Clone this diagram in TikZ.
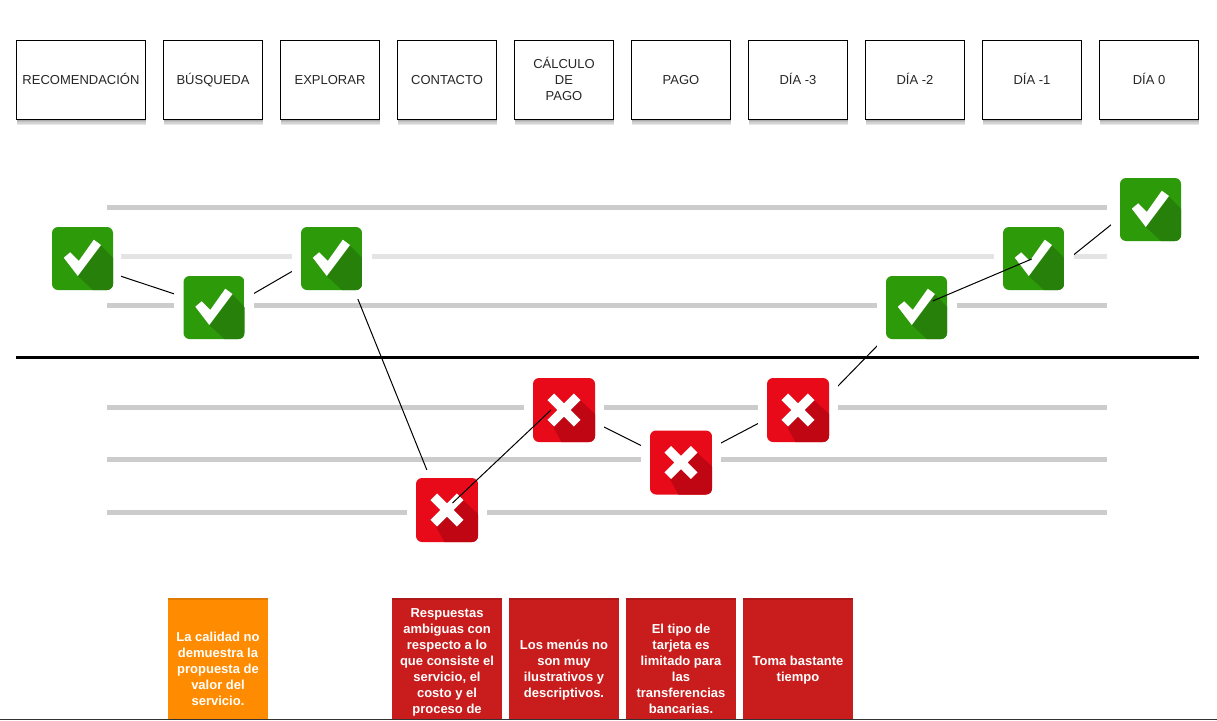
\documentclass[tikz,border=0pt]{standalone}
\usepackage{fontspec}
\setmainfont{Liberation Sans}
\usetikzlibrary{calc,shadows}
\pgfdeclarelayer{paper}
\pgfdeclarelayer{bars}
\pgfdeclarelayer{links}
\pgfsetlayers{paper,bars,links,main}
\definecolor{okgreen}{HTML}{2D9A0A}
\definecolor{okdark}{HTML}{26800A}
\definecolor{badred}{HTML}{E80A18}
\definecolor{baddark}{HTML}{BF0612}
\definecolor{cardred}{HTML}{C91C1C}
\definecolor{cardorange}{HTML}{FF8C00}
\definecolor{bargrey}{HTML}{CCCCCC}
\definecolor{barlight}{HTML}{E4E4E4}
\newcommand{\capstrut}{\rule[-4.2pt]{0pt}{18.2pt}}
\tikzset{
  x=1pt,y=-1pt,
  softshadow/.style={general shadow={shadow yshift=#1,opacity=.09,fill=black}},
  stagebox/.style={draw=black,line width=1pt,fill=white,minimum height=79pt,inner sep=0pt,align=center,
    font=\fontsize{13}{16}\selectfont,text=black!85,
    softshadow=-5.5pt,softshadow=-4pt,softshadow=-2.5pt,softshadow=-1pt},
  halo/.style={fill=white,draw=none,minimum width=80pt,minimum height=81pt,inner sep=0pt},
  card/.style={draw=none,minimum height=122pt,inner sep=0pt,anchor=north west,align=center,text=white,
    font=\bfseries\fontsize{13}{16}\selectfont},
  barline/.style={line width=5pt,bargrey},
  link/.style={draw=black,line width=1pt},
}
\newcommand{\okicon}[1]{%
  \begin{scope}[shift={(#1)}]
    \begin{scope}
      \clip[rounded corners=6pt] (-30.5,-31.5) rectangle (30.5,31.5);
      \fill[okgreen] (-31,-32) rectangle (31,32);
      \fill[okdark] (18,-13.5) -- (31,0) -- (31,32) -- (11,32) -- (-4.7,17.5) -- cycle;
    \end{scope}
    \fill[white] (-18.7,-.8) -- (-12.3,-6.2) -- (-3.7,2.4) -- (11.3,-18.8) -- (18.5,-13.5) -- (-4.7,17.5) -- cycle;
  \end{scope}}
\newcommand{\badicon}[1]{%
  \begin{scope}[shift={(#1)}]
    \begin{scope}
      \clip[rounded corners=6pt] (-31,-32) rectangle (31,32);
      \fill[badred] (-32,-33) rectangle (32,33);
      \fill[baddark] (16,-10) -- (32,5) -- (32,33) -- (-2,33) -- (-11,16.7) -- cycle;
    \end{scope}
    \draw[white,line width=9.5pt] (-13.2,-13.2) -- (13.2,13.2) (-13.2,13.2) -- (13.2,-13.2);
  \end{scope}}
\begin{document}
\begin{tikzpicture}
\useasboundingbox (0,0) rectangle (1217,720);
\begin{pgfonlayer}{paper}
  \fill[white] (0,0) rectangle (1217,720);
\end{pgfonlayer}

% stage boxes
\node[stagebox,minimum width=129pt] (s1) at (81,80) {\capstrut RECOMENDACIÓN};
\node[stagebox,minimum width=99pt] (s2) at (213,80) {\capstrut BÚSQUEDA};
\node[stagebox,minimum width=99pt] (s3) at (330,80) {\capstrut EXPLORAR};
\node[stagebox,minimum width=99pt] (s4) at (447,80) {\capstrut CONTACTO};
\node[stagebox,minimum width=99pt] (s5) at (564,80) {\capstrut CÁLCULO\\DE\\\capstrut PAGO};
\node[stagebox,minimum width=99pt] (s6) at (681,80) {\capstrut PAGO};
\node[stagebox,minimum width=99pt] (s7) at (798,80) {\capstrut DÍA -3};
\node[stagebox,minimum width=99pt] (s8) at (915,80) {\capstrut DÍA -2};
\node[stagebox,minimum width=99pt] (s9) at (1032,80) {\capstrut DÍA -1};
\node[stagebox,minimum width=99pt] (s10) at (1149,80) {\capstrut DÍA 0};

% horizontal guide bars
\begin{pgfonlayer}{bars}
  \draw[barline] (107,207.5) -- (1107,207.5);
  \draw[barline,barlight] (107,256.5) -- (1107,256.5);
  \draw[barline] (107,305.5) -- (1107,305.5);
  \draw[barline] (107,407.5) -- (1107,407.5);
  \draw[barline] (107,459.5) -- (1107,459.5);
  \draw[barline] (107,512.5) -- (1107,512.5);
\end{pgfonlayer}
\draw[black,line width=3pt] (16,357) -- (1199,357);

% icon halos
\node[halo,minimum width=77pt] (a) at (82.5,258.5) {};
\node[halo] (b) at (214,307.5) {};
\node[halo] (c) at (331.5,258.5) {};
\node[halo] (d) at (447,510) {};
\node[halo] (e) at (564,410) {};
\node[halo] (f) at (681,462.5) {};
\node[halo] (g) at (798,410) {};
\node[halo] (h) at (916.5,307.5) {};
\node[halo] (i) at (1033.5,258.5) {};
\node[halo] (j) at (1150.5,209.5) {};

\okicon{a.center}\okicon{b.center}\okicon{c.center}
\badicon{d.center}\badicon{e.center}\badicon{f.center}\badicon{g.center}
\okicon{h.center}\okicon{i.center}\okicon{j.center}

% connectors hidden behind the halos
\begin{pgfonlayer}{links}
  \draw[link] ($(a.center)+(0,5)$) -- ($(b.center)+(-.5,-.6)$);
  \draw[link] ($(b.center)+(-.5,9.4)$) -- ($(c.center)+(-.5,-9.7)$);
  \draw[link] ($(c.center)+(10,0)$) -- ($(d.center)+(-4,0)$);
  \draw[link] ($(e.center)+(0,-3)$) -- ($(f.center)+(0,3)$);
  \draw[link] ($(f.center)+(0,1.5)$) -- ($(g.center)+(0,-7.5)$);
  \draw[link] ($(g.center)+(0,17)$) -- ($(h.center)+(0,-2)$);
  \draw[link] ($(i.center)+(-.5,29)$) -- ($(j.center)+(-.5,-16)$);
\end{pgfonlayer}
% connectors over the icons
\draw[link] ($(d.center)+(5.5,-7)$) -- ($(e.center)+(-13,0)$);
\draw[link] ($(h.center)+(16.2,-6.5)$) -- ($(i.center)+(-1.8,.5)$);

% cards
\node[card,fill=cardorange,minimum width=100pt] (c1) at (168,598) {};
\node[card,fill=cardred,minimum width=110pt] (c2) at (392,598) {};
\node[card,fill=cardred,minimum width=110pt] (c3) at (509,598) {};
\node[card,fill=cardred,minimum width=110pt] (c4) at (626,598) {};
\node[card,fill=cardred,minimum width=110pt] (c5) at (743,598) {};
\fill[black,opacity=.12] (c1.north west) rectangle ++(100,2);
\fill[black,opacity=.12] (c2.north west) rectangle ++(110,2);
\fill[black,opacity=.12] (c3.north west) rectangle ++(110,2);
\fill[black,opacity=.12] (c4.north west) rectangle ++(110,2);
\fill[black,opacity=.12] (c5.north west) rectangle ++(110,2);
\node[card,minimum height=0pt,anchor=center] (t1) at (218,668.5) {La calidad no\\demuestra la\\propuesta de\\valor del\\servicio.};
\node[card,minimum height=0pt,anchor=north] (t2) at (447,608.5) {Respuestas\\ambiguas con\\respecto a lo\\que consiste el\\servicio, el\\costo y el\\proceso de};
\node[card,minimum height=0pt,anchor=center] (t3) at (564,670.5) {Los menús no\\son muy\\ilustrativos y\\descriptivos.};
\node[card,minimum height=0pt,anchor=center] (t4) at (681,668.5) {El tipo de\\tarjeta es\\limitado para\\las\\transferencias\\bancarias.};
\node[card,minimum height=0pt,anchor=center] (t5) at (798,670.5) {Toma bastante\\tiempo};
\draw[black!80,line width=1.2pt] (0,719.4) -- (1217,719.4);
\end{tikzpicture}
\end{document}
